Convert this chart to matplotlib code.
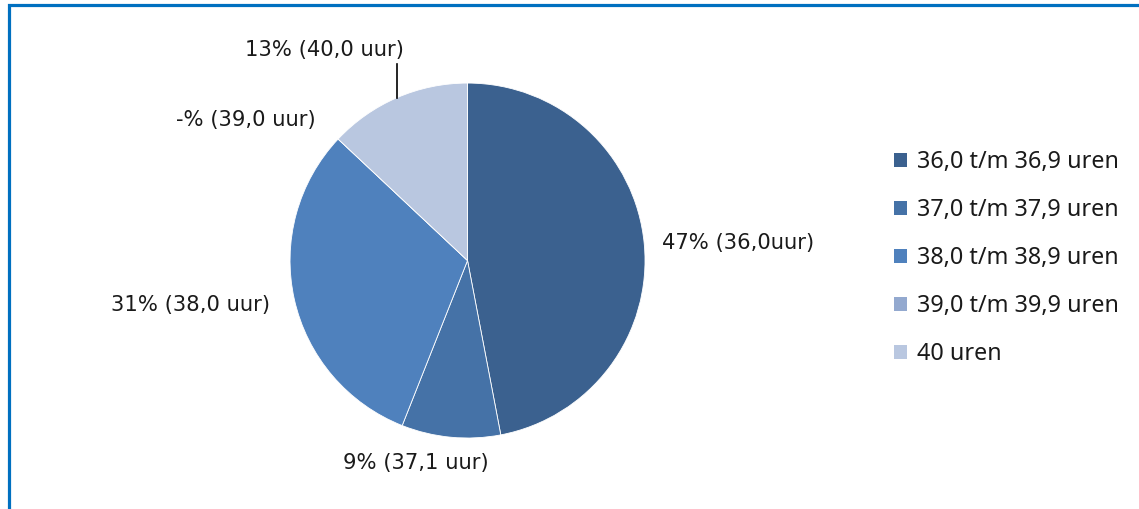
import matplotlib.pyplot as plt
from matplotlib.patches import Patch, Rectangle

# data
categories = ['36,0 t/m 36,9 uren', '37,0 t/m 37,9 uren', '38,0 t/m 38,9 uren',
              '39,0 t/m 39,9 uren', '40 uren']
shares = [47, 9, 31, 0, 13]
slice_labels = ['47% (36,0uur)', '9% (37,1 uur)', '31% (38,0 uur)',
                '-% (39,0 uur)', '13% (40,0 uur)']
colors = ['#3B618F', '#4572A7', '#4F81BD', '#93A9CF', '#B9C7E0']

fig = plt.figure(figsize=(11.39, 5.09), dpi=100)
ax = fig.add_axes([0, 0, 1, 1])

ax.pie(shares, colors=colors, startangle=90, counterclock=False, radius=1,
       wedgeprops=dict(edgecolor='white', linewidth=0.6))
ax.set_xlim(-2.634, 3.783)
ax.set_ylim(-1.400, 1.468)
ax.set_aspect('auto')
ax.axis('off')

# slice labels (positions in pie units)
lab_font = dict(family='DejaVu Sans', fontsize=15.2, color='#1a1a1a')
ax.text(1.096, 0.099, slice_labels[0], ha='left', va='center', **lab_font)
ax.text(-0.29, -1.141, slice_labels[1], ha='center', va='center', **lab_font)
ax.text(-1.563, -0.251, slice_labels[2], ha='center', va='center', **lab_font)
ax.text(-1.248, 0.792, slice_labels[3], ha='center', va='center', **lab_font)
ax.text(-0.803, 1.186, slice_labels[4], ha='center', va='center', **lab_font)
ax.plot([-0.397, -0.397], [1.107, 0.918], color='black', lw=1.2)

handles = [Patch(facecolor=c, edgecolor='none') for c in colors]
fig.legend(handles, categories, loc='center left',
           bbox_to_anchor=(873 / 1139, 1 - 258 / 509), frameon=False,
           prop=dict(family='Noto Sans', size=16.8), labelspacing=1.03,
           handlelength=0.57, handleheight=0.57, handletextpad=0.42,
           labelcolor='#1a1a1a')

# blue frame, running off the right and bottom edge
fig.patches.append(Rectangle((9 / 1139, -0.1), 1.2, 1 - 5.5 / 509 + 0.1,
                             transform=fig.transFigure, fill=False,
                             edgecolor='#0070C0', linewidth=2.3))

fig.savefig('out.png', dpi=100)
